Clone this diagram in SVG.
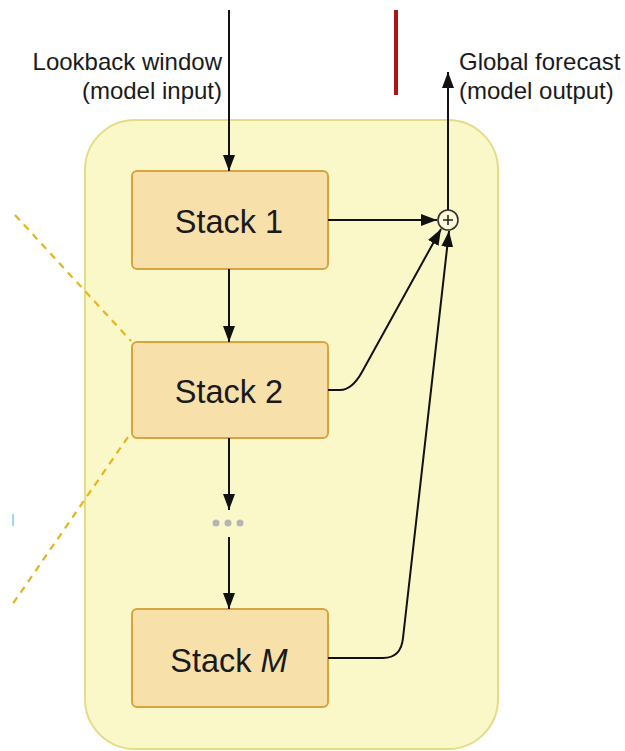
<svg xmlns="http://www.w3.org/2000/svg" width="625" height="751" viewBox="0 0 625 751">
<style>
.lbl{font-family:"Liberation Sans",Arial,sans-serif;font-size:24px;fill:#1a1a1a}
.stk{font-family:"Liberation Sans",Arial,sans-serif;font-size:32.5px;fill:#1a1a1a;text-anchor:middle}
.box{fill:#f8e0aa;stroke:#d9a440;stroke-width:2}
.ln{fill:none;stroke:#111;stroke-width:2}
.dash{fill:none;stroke:#e2b61c;stroke-width:2.2;stroke-dasharray:7,6}
</style>
<defs>
<marker id="ah" viewBox="0 0 16 12" refX="16" refY="6" markerWidth="16" markerHeight="12" markerUnits="userSpaceOnUse" orient="auto">
<path d="M0,0 L16,6 L0,12 Z" fill="#111"/>
</marker>
</defs>
<rect width="625" height="751" fill="#fff"/>
<g id="container">
<rect x="85" y="120" width="413" height="629" rx="50" fill="#faf7c9" stroke="#e5dc87" stroke-width="2"/>
</g>
<g id="decor">
<line class="dash" x1="15" y1="215" x2="131" y2="341"/>
<line class="dash" x1="128" y1="437" x2="12" y2="605"/>
<line x1="13" y1="514" x2="13" y2="526" stroke="#9fd4f5" stroke-width="2"/>
<line x1="396" y1="10" x2="396" y2="95" stroke="#b0121a" stroke-width="4"/>
</g>
<g id="labels">
<text class="lbl" x="222" y="70" text-anchor="end">Lookback window</text>
<text class="lbl" x="222" y="99" text-anchor="end">(model input)</text>
<text class="lbl" x="459" y="70">Global forecast</text>
<text class="lbl" x="459" y="99">(model output)</text>
</g>
<g id="stack1">
<rect class="box" x="132" y="171" width="196" height="98" rx="5"/>
<text class="stk" x="229" y="233">Stack 1</text>
</g>
<g id="stack2">
<rect class="box" x="132" y="342" width="196" height="96" rx="5"/>
<text class="stk" x="229" y="403">Stack 2</text>
</g>
<g id="dots" fill="#b5b5b5">
<circle cx="216" cy="523" r="3.5"/>
<circle cx="228" cy="523" r="3.5"/>
<circle cx="240" cy="523" r="3.5"/>
</g>
<g id="stackM">
<rect class="box" x="132" y="609" width="196" height="98" rx="5"/>
<text class="stk" x="229" y="672">Stack <tspan font-style="italic">M</tspan></text>
</g>
<g id="sum">
<circle cx="448" cy="220" r="10" fill="#fbf8d8" stroke="#333" stroke-width="1.6"/>
<path d="M443,220 H453 M448,215 V225" stroke="#222" stroke-width="1.6"/>
</g>
<g id="connectors">
<line class="ln" x1="229" y1="10" x2="229" y2="171" marker-end="url(#ah)"/>
<line class="ln" x1="229" y1="269" x2="229" y2="342" marker-end="url(#ah)"/>
<line class="ln" x1="229" y1="438" x2="229" y2="510" marker-end="url(#ah)"/>
<line class="ln" x1="229" y1="537" x2="229" y2="609" marker-end="url(#ah)"/>
<line class="ln" x1="328" y1="220" x2="437" y2="220" marker-end="url(#ah)"/>
<path class="ln" d="M328,390 H340 Q352,390 362,372 L441,229" marker-end="url(#ah)"/>
<path class="ln" d="M328,658 H383 Q401,658 403,638 L449,231" marker-end="url(#ah)"/>
<line class="ln" x1="448" y1="210" x2="448" y2="72" marker-end="url(#ah)"/>
</g>
</svg>
